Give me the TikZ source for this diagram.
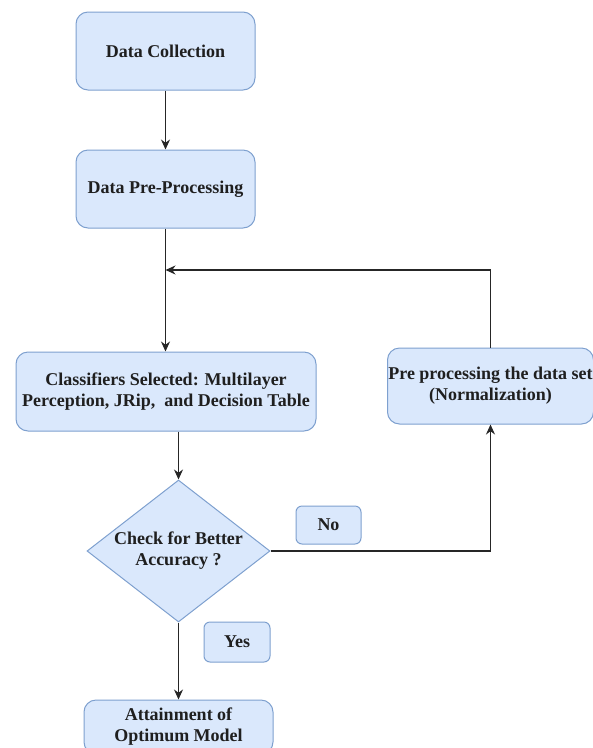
\documentclass[tikz,border=0pt]{standalone}
\usepackage{fontspec}
\setmainfont{Liberation Serif}
\usetikzlibrary{shapes.geometric,arrows.meta}
\definecolor{boxfill}{HTML}{DAE8FC}
\definecolor{boxline}{HTML}{7EA0CF}
\definecolor{lineclr}{HTML}{262626}
\begin{document}
\begin{tikzpicture}[x=1pt,y=-1pt,
  every node/.style={font=\fontsize{18}{21}\selectfont\bfseries, text=black!88},
  flowbox/.style={draw=boxline, fill=boxfill, line width=1pt, rounded corners=12pt, align=center, inner sep=0pt},
  tagbox/.style={draw=boxline, fill=boxfill, line width=1pt, rounded corners=6pt, align=center, inner sep=0pt},
  decision/.style={draw=boxline, fill=boxfill, line width=1pt, shape=diamond, aspect=1.29, inner sep=0pt, align=center, minimum width=183pt, minimum height=142pt},
  conn/.style={draw=lineclr, line width=1.2pt, -{Stealth[length=10pt,width=9pt]}},
  plain/.style={draw=lineclr, line width=1.2pt}
]
\useasboundingbox (0,0) rectangle (593,748);
\begin{scope}
\clip (0,0) rectangle (593,748);
\node[flowbox, minimum width=179pt, minimum height=78pt] (dc) at (165.5,51) {Data Collection};
\node[flowbox, minimum width=179pt, minimum height=78pt] (dpp) at (165.5,189) {Data Pre-Processing};
\node[flowbox, minimum width=300pt, minimum height=79pt] (cls) at (166,391.5) {Classifiers Selected: Multilayer\\Perception, JRip,~ and Decision Table};
\node[flowbox, minimum width=206pt, minimum height=76pt] (pre) at (490.5,386) {Pre processing the data set\\(Normalization)};
\node[decision] (dia) at (178.5,551) {Check for Better\\Accuracy ?};
\node[tagbox, minimum width=65pt, minimum height=38pt] (no) at (328.5,525) {No};
\node[tagbox, minimum width=66pt, minimum height=40pt] (yes) at (237,642) {Yes};
\node[flowbox, minimum width=189pt, minimum height=54pt] (att) at (178.5,727) {Attainment of\\Optimum Model};
\coordinate (join) at (165.5,270);

\path[conn] (dc.south) -- (dpp.north);
\path[conn] (dpp.south) -- (dpp.south |- cls.north);
\path[conn] (pre.north) |- (join);
\path[conn] (cls.south -| dia.north) -- (dia.north);
\path[conn] (dia.east) -| (pre.south);
\path[conn] (dia.south) -- (att.north);
\end{scope}
\end{tikzpicture}
\end{document}
